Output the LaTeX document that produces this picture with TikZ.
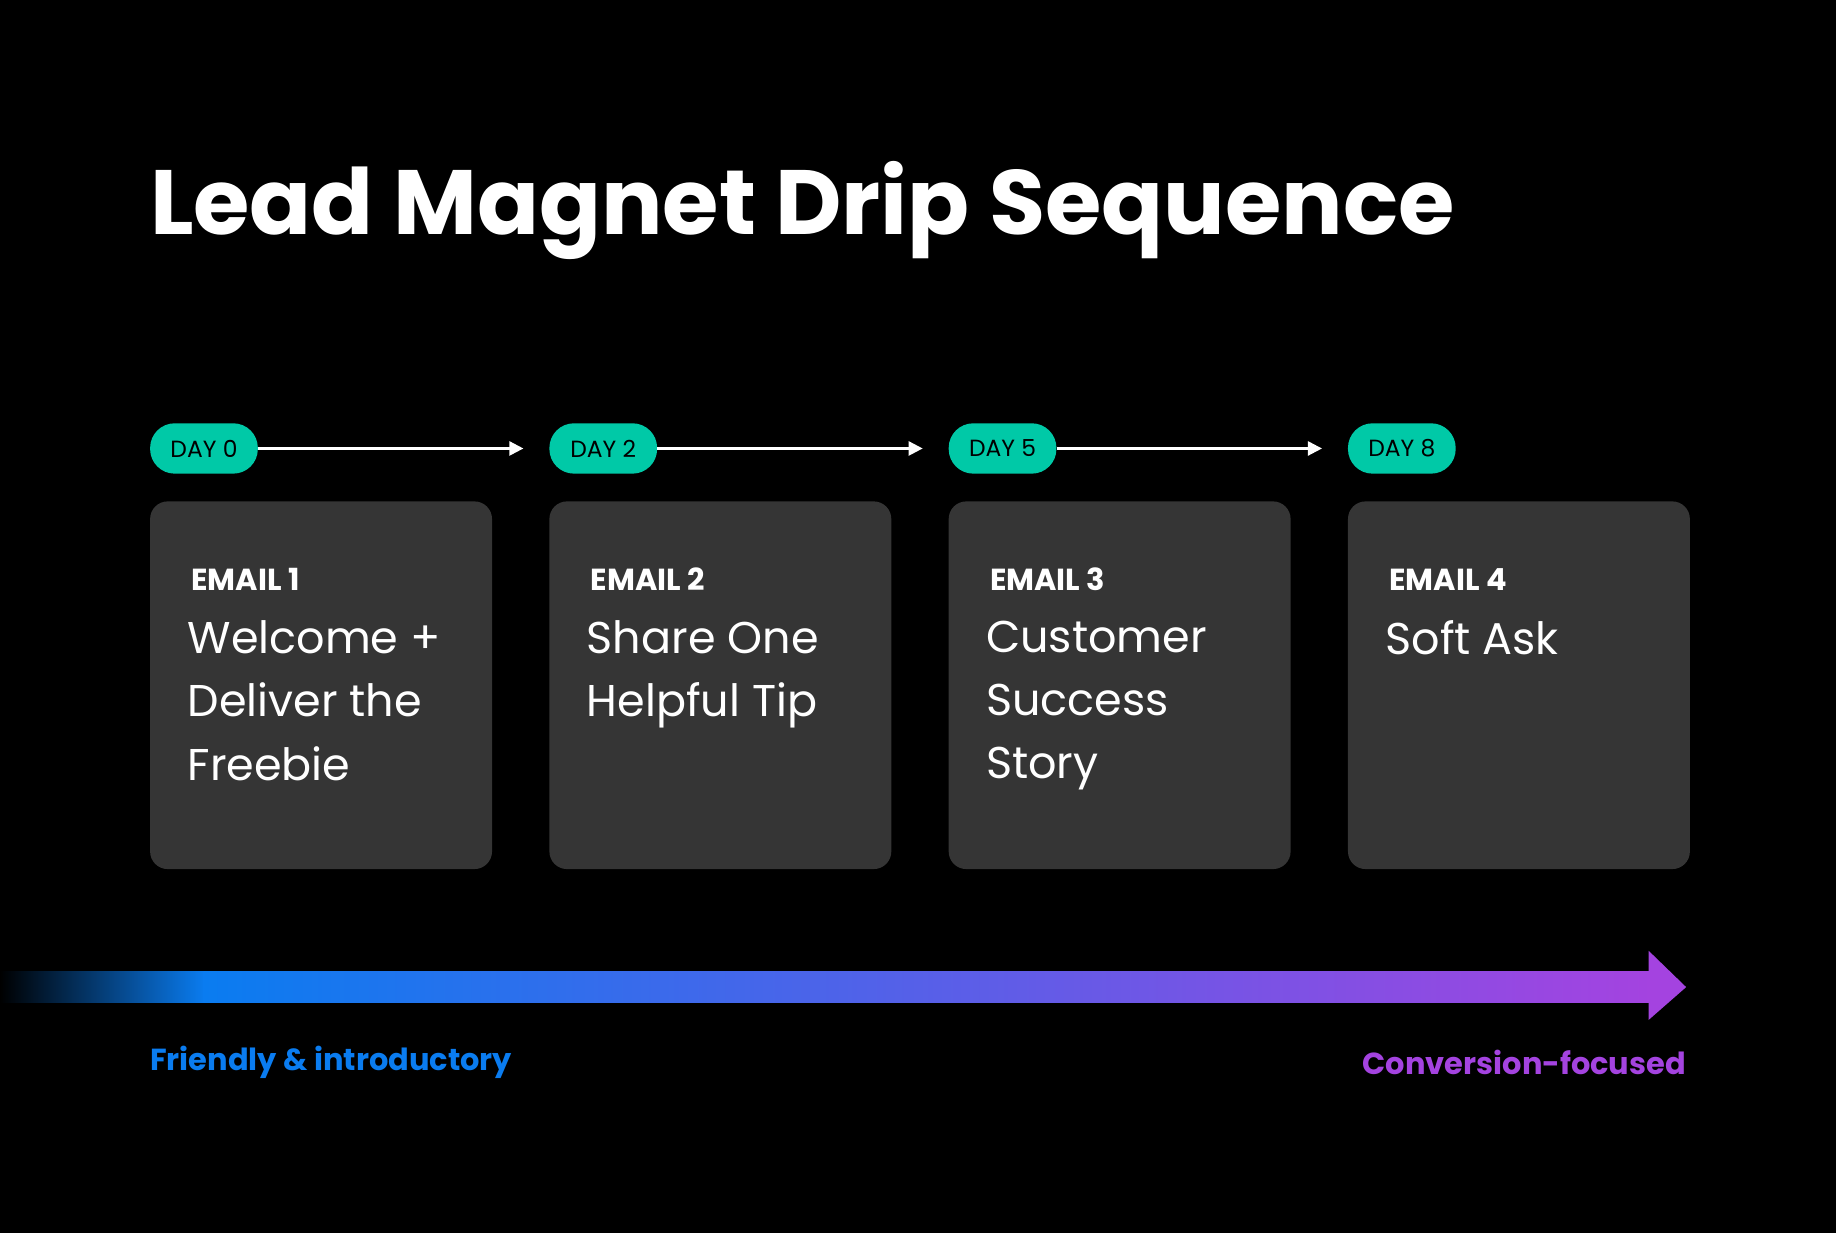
\documentclass[tikz,border=0pt]{standalone}
\usepackage{fontspec}
\setmainfont{Poppins}
\usetikzlibrary{positioning, arrows.meta}
\definecolor{pillgreen}{HTML}{00C9A7}
\definecolor{boxgray}{HTML}{353535}
\definecolor{startblue}{HTML}{0A7CF0}
\definecolor{endpurple}{HTML}{A443E0}
\begin{document}
\begin{tikzpicture}[x=1pt, y=-1pt, >=Triangle,
    day/.style = {fill=pillgreen, rounded corners=21pt, minimum width=92pt,
                  minimum height=43pt, inner sep=0pt, font=\fontsize{20}{24}\selectfont},
    email/.style = {fill=boxgray, rounded corners=15pt, minimum width=292pt,
                    minimum height=314pt, anchor=north west},
    tag/.style = {text=white, anchor=west, font=\bfseries\fontsize{26}{30}\selectfont},
    body/.style = {text=white, anchor=north west, align=left, inner sep=0pt,
                   font=\fontsize{38}{54}\selectfont},
    arrow/.style = {white, line width=2pt, -{Triangle[length=12pt, width=12pt]}}]

    \fill [black] (0,0) rectangle (1568,1053);
    \useasboundingbox (0,0) rectangle (1568,1053);

    % Title
    \node [text=white, anchor=west, inner sep=0pt, font=\bfseries\fontsize{78}{90}\selectfont]
        (title) at (128,180) {Lead Magnet Drip Sequence};

    % Days and emails
    \foreach \i/\x/\d in {1/128/0, 2/469/2, 3/810/5, 4/1151/8} {
        \node [day, anchor=west] (day\i) at (\x,383) {DAY \d};
        \node [email] (box\i) at (\x,428) {};
        \node [tag] (tag\i) at ([xshift=32pt, yshift=-67pt]box\i.north west) {EMAIL \i};
    }
    \node [body] (text1) at ([xshift=32pt, yshift=-102pt]box1.north west) {Welcome +\\Deliver the\\Freebie};
    \node [body] (text2) at ([xshift=32pt, yshift=-102pt]box2.north west) {Share One\\Helpful Tip};
    \node [body] (text3) at ([xshift=32pt, yshift=-102pt]box3.north west) {Customer\\Success\\Story};
    \node [body] (text4) at ([xshift=32pt, yshift=-102pt]box4.north west) {Soft Ask};

    % Timeline arrows
    \coordinate (end1) at (447,383);
    \coordinate (end2) at (788,383);
    \coordinate (end3) at (1129,383);
    \foreach \i in {1,2,3} \draw [arrow] (day\i.east) -- (end\i);

    % Tone gradient
    \shade [left color=black, right color=startblue] (0,830) rectangle (175,856);
    \shade [left color=startblue, right color=endpurple] (174,830) rectangle (1410,856);
    \fill [endpurple] (1408,812) -- (1440,843) -- (1408,871) -- cycle;
    \node [anchor=west, inner sep=0pt, text=startblue, font=\bfseries\fontsize{26}{30}\selectfont]
        (friendly) at (128,907) {Friendly \& introductory};
    \node [anchor=east, inner sep=0pt, text=endpurple, font=\bfseries\fontsize{26}{30}\selectfont]
        (conversion) at (1440,907) {Conversion-focused};
\end{tikzpicture}
\end{document}
